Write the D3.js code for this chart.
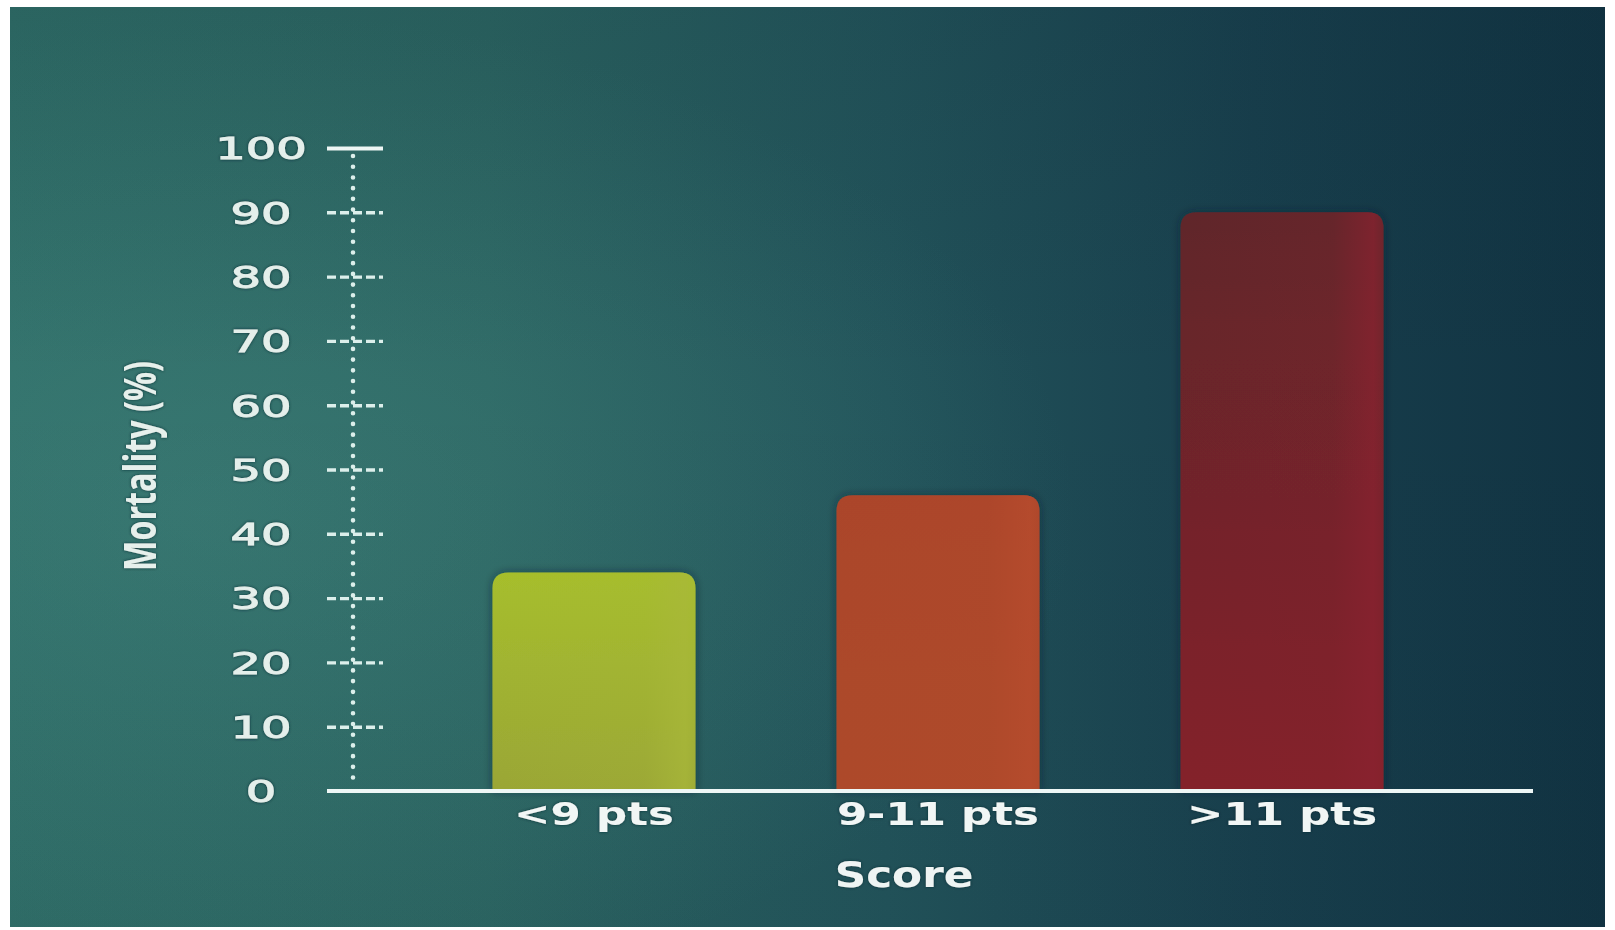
<!DOCTYPE html>
<html>
<head>
<meta charset="utf-8">
<script src="https://cdn.jsdelivr.net/npm/d3@7/dist/d3.min.js"></script>
<style>
  html, body { margin: 0; padding: 0; background: #ffffff; }
  svg { display: block; }
</style>
</head>
<body>
<svg id="chart" width="1615" height="930"></svg>
<script>
// Mortality by score group
const categories = ["<9 pts", "9-11 pts", ">11 pts"];
const mortality = [34, 46, 90];
const yTicks = [0, 10, 20, 30, 40, 50, 60, 70, 80, 90, 100];
const barTop = ["#a6be2c", "#ab452a", "#60262b"];
const barBottom = ["#9aa636", "#ad4a2c", "#842229"];
const barEdge = ["#a9b83a", "#b84c2e", "#8a2230"];
const xTitle = "Score";
const yTitle = "Mortality (%)";

const svg = d3.select("#chart");
const defs = svg.append("defs");

// backdrop: teal on the left fading to deep navy on the right
const bg = defs.append("linearGradient").attr("id", "bg").attr("x1", 0).attr("x2", 1).attr("y1", 0).attr("y2", 0);
[["0%", "#2f6d67"], ["30%", "#2b6461"], ["55%", "#22535a"], ["78%", "#183f4d"], ["100%", "#113342"]]
  .forEach(([o, c]) => bg.append("stop").attr("offset", o).attr("stop-color", c));
const glow = defs.append("radialGradient").attr("id", "glow")
  .attr("cx", 0.12).attr("cy", 0.55).attr("r", 0.55);
glow.append("stop").attr("offset", "0%").attr("stop-color", "#4a9088").attr("stop-opacity", 0.35);
glow.append("stop").attr("offset", "100%").attr("stop-color", "#4a9088").attr("stop-opacity", 0);
const shade = defs.append("linearGradient").attr("id", "shade").attr("x1", 0).attr("x2", 0).attr("y1", 0).attr("y2", 1);
shade.append("stop").attr("offset", "0%").attr("stop-color", "#0c2630").attr("stop-opacity", 0.12);
shade.append("stop").attr("offset", "40%").attr("stop-color", "#0c2630").attr("stop-opacity", 0);
shade.append("stop").attr("offset", "100%").attr("stop-color", "#0c2630").attr("stop-opacity", 0.05);

const area = { x: 10, y: 7, w: 1595, h: 920 };
["bg", "glow", "shade"].forEach(id =>
  svg.append("rect").attr("x", area.x).attr("y", area.y).attr("width", area.w).attr("height", area.h).attr("fill", `url(#${id})`));

// soft dark halo used behind text and bars
const halo = defs.append("filter").attr("id", "halo").attr("x", "-20%").attr("y", "-40%").attr("width", "140%").attr("height", "180%");
halo.append("feDropShadow").attr("dx", 0).attr("dy", 0).attr("stdDeviation", 1.6)
  .attr("flood-color", "#0b2a30").attr("flood-opacity", 0.9);
const barShadow = defs.append("filter").attr("id", "barShadow").attr("x", "-10%").attr("y", "-10%").attr("width", "120%").attr("height", "120%");
barShadow.append("feDropShadow").attr("dx", 0).attr("dy", 0).attr("stdDeviation", 4)
  .attr("flood-color", "#0a2230").attr("flood-opacity", 0.55);

// scales
const y = d3.scaleLinear().domain([0, 100]).range([791, 148]);
const x = d3.scaleBand().domain(categories).range([348, 1528]).paddingInner(0.41).paddingOuter(0.42);
const axisX = 353;

// bar fills
categories.forEach((c, i) => {
  const gv = defs.append("linearGradient").attr("id", "barV" + i).attr("x1", 0).attr("x2", 0).attr("y1", 0).attr("y2", 1);
  gv.append("stop").attr("offset", "0%").attr("stop-color", barTop[i]);
  gv.append("stop").attr("offset", "100%").attr("stop-color", barBottom[i]);
  const gh = defs.append("linearGradient").attr("id", "barH" + i).attr("x1", 0).attr("x2", 1).attr("y1", 0).attr("y2", 0);
  gh.append("stop").attr("offset", "0%").attr("stop-color", barEdge[i]).attr("stop-opacity", 0);
  gh.append("stop").attr("offset", "75%").attr("stop-color", barEdge[i]).attr("stop-opacity", 0.15);
  gh.append("stop").attr("offset", "95%").attr("stop-color", barEdge[i]).attr("stop-opacity", 0.7);
  gh.append("stop").attr("offset", "100%").attr("stop-color", barEdge[i]).attr("stop-opacity", 0.3);
});

function topRounded(x0, y0, w, h, r) {
  const p = d3.path();
  p.moveTo(x0, y0 + h);
  p.lineTo(x0, y0 + r);
  p.quadraticCurveTo(x0, y0, x0 + r, y0);
  p.lineTo(x0 + w - r, y0);
  p.quadraticCurveTo(x0 + w, y0, x0 + w, y0 + r);
  p.lineTo(x0 + w, y0 + h);
  p.closePath();
  return p.toString();
}

const bars = svg.append("g");
const data = categories.map((c, i) => ({ c, v: mortality[i], i }));
bars.selectAll("path.bar").data(data).enter().append("path")
  .attr("class", "bar")
  .attr("d", d => topRounded(x(d.c), y(d.v), x.bandwidth(), y(0) - y(d.v), 16))
  .attr("fill", d => `url(#barV${d.i})`)
  .attr("filter", "url(#barShadow)");
bars.selectAll("path.sheen").data(data).enter().append("path")
  .attr("class", "sheen")
  .attr("d", d => topRounded(x(d.c), y(d.v), x.bandwidth(), y(0) - y(d.v), 16))
  .attr("fill", d => `url(#barH${d.i})`);

// y axis: dotted spine, dashed ticks, centred labels
const yAxis = d3.axisLeft(y).tickValues(yTicks).tickSize(0).tickPadding(0);
const gy = svg.append("g").attr("transform", `translate(${axisX},0)`).call(yAxis);
gy.select(".domain").remove();

const step = (y(0) - y(10)) / 6;
gy.insert("line", ":first-child")
  .attr("x1", 0).attr("x2", 0)
  .attr("y1", y(100) + 8).attr("y2", y(0) - 7)
  .attr("stroke", "#dcefeb").attr("stroke-width", 4.6)
  .attr("stroke-linecap", "round")
  .attr("stroke-dasharray", `0,${step}`);

gy.selectAll(".tick").each(function (d) {
  const t = d3.select(this);
  t.select("line").remove();
  if (d === 100) {
    t.append("line").attr("x1", -26).attr("x2", 30).attr("y1", 0).attr("y2", 0)
      .attr("stroke", "#eef6f4").attr("stroke-width", 4);
  } else if (d > 0) {
    t.append("line").attr("x1", -26).attr("x2", 30).attr("y1", 0).attr("y2", 0)
      .attr("stroke", "#dcefeb").attr("stroke-width", 3.4)
      .attr("stroke-dasharray", "9,4");
  }
  const txt = t.select("text")
    .attr("x", -92).attr("dy", "0.36em")
    .attr("text-anchor", "middle")
    .attr("fill", "#e4efeb")
    .attr("stroke", "#e4efeb").attr("stroke-width", 0.9)
    .attr("font-family", "DejaVu Sans")
    .attr("font-size", 30)
    .attr("filter", "url(#halo)");
  const len = txt.node().getComputedTextLength();
  txt.attr("textLength", len * 1.6).attr("lengthAdjust", "spacingAndGlyphs");
});

// baseline
svg.append("line")
  .attr("x1", 327).attr("x2", 1533)
  .attr("y1", y(0)).attr("y2", y(0))
  .attr("stroke", "#eef7f6").attr("stroke-width", 4);

// x axis labels
const xAxis = d3.axisBottom(x).tickSize(0).tickPadding(0);
const gx = svg.append("g").attr("transform", `translate(0,${y(0)})`).call(xAxis);
gx.select(".domain").remove();
gx.selectAll(".tick text").each(function () {
  const t = d3.select(this)
    .attr("y", 34).attr("dy", 0)
    .attr("fill", "#f1f6f5")
    .attr("font-family", "DejaVu Sans")
    .attr("font-weight", "bold")
    .attr("font-size", 32)
    .attr("filter", "url(#halo)");
  const len = this.getComputedTextLength();
  t.attr("textLength", len * 1.36).attr("lengthAdjust", "spacingAndGlyphs");
});

// axis titles
const xt = svg.append("text")
  .attr("x", 904).attr("y", 887)
  .attr("text-anchor", "middle")
  .attr("fill", "#eef4f3")
  .attr("font-family", "DejaVu Sans")
  .attr("font-weight", "bold")
  .attr("font-size", 35)
  .attr("filter", "url(#halo)")
  .text(xTitle);
xt.attr("textLength", xt.node().getComputedTextLength() * 1.25).attr("lengthAdjust", "spacingAndGlyphs");

svg.append("text")
  .attr("transform", "translate(140,466) rotate(-90)")
  .attr("text-anchor", "middle")
  .attr("dy", "0.36em")
  .attr("fill", "#e6f0ec")
  .attr("font-family", "Open Sans")
  .attr("font-weight", 700)
  .attr("font-size", 44)
  .attr("textLength", 210)
  .attr("lengthAdjust", "spacingAndGlyphs")
  .attr("filter", "url(#halo)")
  .text(yTitle);
</script>
</body>
</html>
